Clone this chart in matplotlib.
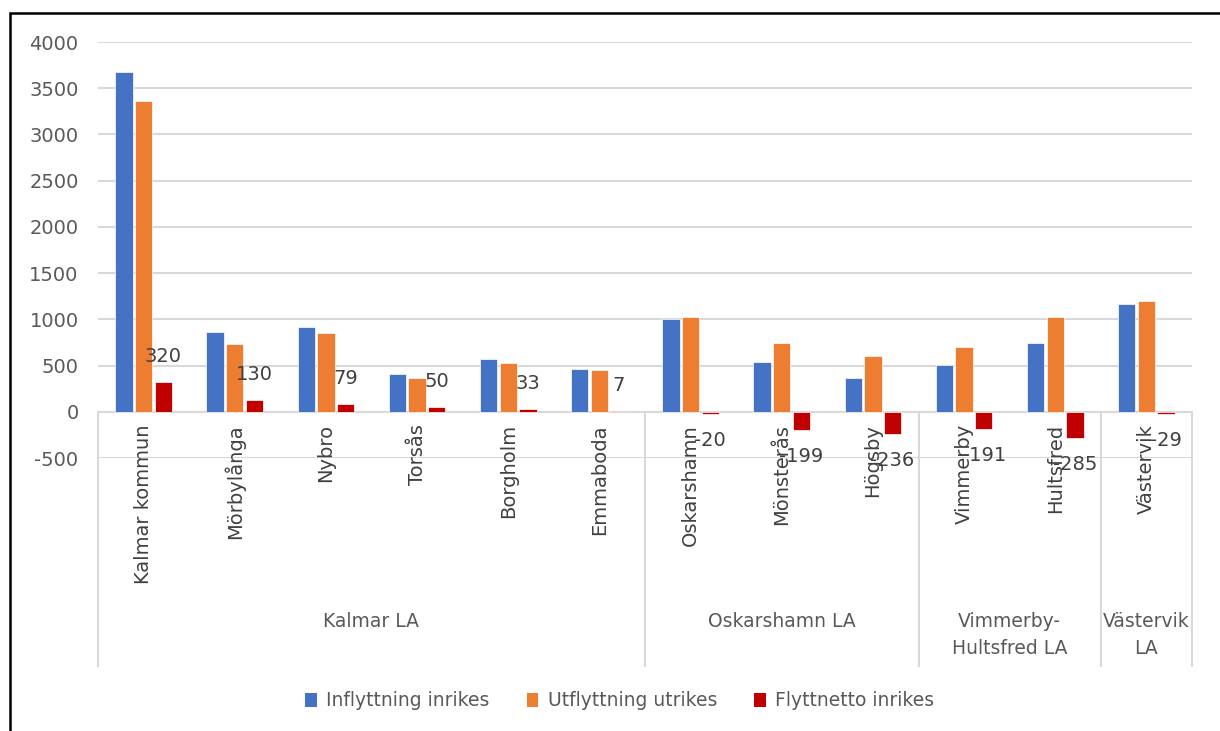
import matplotlib.pyplot as plt
from matplotlib.patches import Patch, Rectangle
import numpy as np

plt.rcParams['font.family'] = ['DejaVu Sans']
plt.rcParams['axes.unicode_minus'] = False

kommuner = ["Kalmar kommun", "Mörbylånga", "Nybro", "Torsås", "Borgholm", "Emmaboda",
            "Oskarshamn", "Mönsterås", "Högsby", "Vimmerby", "Hultsfred", "Västervik"]
inflyttning = [3680, 866, 920, 411, 574, 465, 1006, 541, 368, 509, 745, 1170]
utflyttning = [3366, 736, 855, 368, 530, 455, 1026, 740, 604, 700, 1030, 1199]
flyttnetto = [320, 130, 79, 50, 33, 7, -20, -199, -236, -191, -285, -29]

# arbetsmarknadsområden: namn, första och sista kommun
grupper = [("Kalmar LA", 0, 5), ("Oskarshamn LA", 6, 8),
           ("Vimmerby-\nHultsfred LA", 9, 10), ("Västervik\nLA", 11, 11)]

serier = ["Inflyttning inrikes", "Utflyttning utrikes", "Flyttnetto inrikes"]
farger = ["#4472C4", "#ED7D31", "#C00000"]

fig = plt.figure(figsize=(12.2, 7.31), dpi=100)
ax = fig.add_axes([98/1220, 1-458/731, 1094/1220, 416/731])

x = np.arange(len(kommuner))
w = 0.19
off = 0.215
ax.bar(x - off, inflyttning, w, color=farger[0], edgecolor="white", linewidth=0.5, zorder=2)
ax.bar(x, utflyttning, w, color=farger[1], edgecolor="white", linewidth=0.5, zorder=2)
staplar = ax.bar(x + off, flyttnetto, w, color=farger[2], edgecolor="white", linewidth=0.5, zorder=2)

for s, v in zip(staplar, flyttnetto):
    xc = s.get_x() + s.get_width()/2
    if v >= 0:
        ax.annotate(str(v), (xc, v), xytext=(0, 16), textcoords="offset pixels",
                    ha="center", va="bottom", fontsize=14, color="#404040", zorder=4)
    else:
        ax.annotate(str(v), (xc, v), xytext=(0, -17), textcoords="offset pixels",
                    ha="center", va="top", fontsize=14, color="#404040", zorder=4)

ax.set_xlim(-0.5, len(kommuner) - 0.5)
ax.set_ylim(-500, 4000)
ax.set_yticks(np.arange(-500, 4001, 500))
ax.yaxis.grid(True, color="#d9d9d9", linewidth=1.5)
ax.set_axisbelow(True)
ax.set_xticks([])
for sp in ax.spines.values():
    sp.set_visible(False)
ax.tick_params(axis="y", length=0, pad=14, labelsize=14, labelcolor="#595959")

trans = ax.get_xaxis_transform()
y0 = 500/4500
# kategoriaxelns etiketter
for i, namn in enumerate(kommuner):
    ax.text(i, 0.0817, namn, transform=trans, rotation=90, ha="center", va="top",
            fontsize=14, color="#404040", zorder=3)

# avgränsningslinjer och gruppnamn
gränser = [-0.5] + [g[2] + 0.5 for g in grupper]
for gx in gränser:
    ax.plot([gx, gx], [y0, -0.5], transform=trans, color="#d9d9d9", linewidth=1.5,
            clip_on=False, zorder=1)
for namn, a, b in grupper:
    ax.text((a + b)/2, -0.37, namn, transform=trans, ha="center", va="top",
            fontsize=13.5, color="#595959", linespacing=1.55)

handtag = [Patch(facecolor=c) for c in farger]
fig.legend(handtag, serier, loc="center", bbox_to_anchor=(0.508, 1 - 701/731), ncol=3,
           frameon=False, fontsize=13.5, handlelength=0.6, handleheight=0.7,
           handletextpad=0.5, columnspacing=2.0, labelcolor="#595959")

# ram runt diagrammet
fig.patches.append(Rectangle((10/1220, -0.1), 1.2, 1.1 - 13/731, transform=fig.transFigure,
                             fill=False, edgecolor="black", linewidth=1.8))

fig.savefig("out.png", dpi=100)
